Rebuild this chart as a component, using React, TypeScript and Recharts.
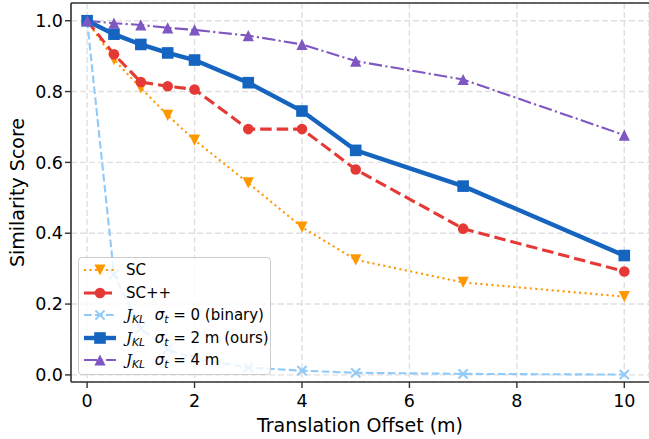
import { LineChart, Line, XAxis, YAxis, CartesianGrid, Legend, ReferenceLine, Label } from 'recharts';

// translation offsets (m) where each descriptor was evaluated
const OFFSETS = [0, 0.5, 1, 1.5, 2, 3, 4, 5, 7, 10];

// similarity scores
const SC = [1.0, 0.89, 0.81, 0.733, 0.663, 0.542, 0.417, 0.325, 0.261, 0.221];
const SC_PP = [1.0, 0.905, 0.827, 0.815, 0.806, 0.694, 0.694, 0.58, 0.413, 0.292];
const KL_BINARY = [1.0, 0.284, 0.131, 0.073, 0.045, 0.021, 0.012, 0.006, 0.003, 0.001];
const KL_OURS = [1.0, 0.962, 0.933, 0.909, 0.889, 0.825, 0.745, 0.634, 0.533, 0.337];
const KL_WIDE = [1.0, 0.993, 0.988, 0.98, 0.974, 0.958, 0.933, 0.886, 0.834, 0.677];

const X_TICKS = [0, 2, 4, 6, 8, 10];
const Y_TICKS = [0, 0.2, 0.4, 0.6, 0.8, 1.0];

const data = OFFSETS.map((x, i) => ({
  x,
  sc: SC[i],
  scpp: SC_PP[i],
  binary: KL_BINARY[i],
  ours: KL_OURS[i],
  wide: KL_WIDE[i],
}));

const FONT = '"DejaVu Sans", sans-serif';
const AXIS = '#333';

const ORANGE = '#FF9800';
const RED = '#E53935';
const LIGHT_BLUE = '#90CAF9';
const BLUE = '#1565C0';
const PURPLE = '#7E57C2';

// marker shapes (matplotlib style)
type Mk = 'v' | 'o' | 'x' | 's' | '^';

function marker(kind: Mk, color: string, cx: number, cy: number, key?: any) {
  if (kind === 'v') {
    const r = 5.6;
    return <path key={key} d={`M${cx - r},${cy - r} L${cx + r},${cy - r} L${cx},${cy + r} Z`} fill={color} />;
  }
  if (kind === '^') {
    const r = 5.6;
    return <path key={key} d={`M${cx - r},${cy + r} L${cx + r},${cy + r} L${cx},${cy - r} Z`} fill={color} />;
  }
  if (kind === 's') {
    const h = 5.8;
    return <rect key={key} x={cx - h} y={cy - h} width={h * 2} height={h * 2} fill={color} />;
  }
  if (kind === 'x') {
    const h = 4.6;
    return (
      <path key={key} d={`M${cx - h},${cy - h} L${cx + h},${cy + h} M${cx - h},${cy + h} L${cx + h},${cy - h}`}
        stroke={color} strokeWidth={2} fill="none" />
    );
  }
  return <circle key={key} cx={cx} cy={cy} r={5.3} fill={color} />;
}

const dotOf = (kind: Mk, color: string) => (p: any) => marker(kind, color, p.cx, p.cy, p.key ?? p.index);

const SERIES = [
  { key: 'sc', color: ORANGE, width: 2.1, dash: '2.1 3.4', mk: 'v' as Mk },
  { key: 'scpp', color: RED, width: 3.1, dash: '11.5 5', mk: 'o' as Mk },
  { key: 'binary', color: LIGHT_BLUE, width: 2.1, dash: '7.7 3.3', mk: 'x' as Mk },
  { key: 'ours', color: BLUE, width: 4.4, dash: undefined, mk: 's' as Mk },
  { key: 'wide', color: PURPLE, width: 2.1, dash: '13.3 3.3 2.1 3.3', mk: '^' as Mk },
];

const Sub = ({ children }: { children: any }) => (
  <span style={{ fontSize: '0.72em', fontStyle: 'italic', position: 'relative', top: '0.3em' }}>{children}</span>
);

const Jkl = () => (
  <>
    <span style={{ fontFamily: '"DejaVu Serif", serif', fontStyle: 'italic' }}>J</span>
    <Sub>KL</Sub>
  </>
);

const Sigma = () => (
  <>
    <span style={{ fontStyle: 'italic' }}>σ</span>
    <Sub>t</Sub>
  </>
);

const LABELS: Record<string, any> = {
  sc: <>SC</>,
  scpp: <>SC++</>,
  binary: <><Jkl />&nbsp;&nbsp;<Sigma /> = 0 (binary)</>,
  ours: <><Jkl />&nbsp;&nbsp;<Sigma /> = 2 m (ours)</>,
  wide: <><Jkl />&nbsp;&nbsp;<Sigma /> = 4 m</>,
};

function LegendBox() {
  return (
    <div style={{
      width: 191, height: 115, boxSizing: 'content-box',
      border: '1px solid #ccc', borderRadius: 4, background: 'rgba(255,255,255,0.8)',
      fontFamily: FONT, fontSize: 15, color: '#000', paddingTop: 1,
    }}>
      {SERIES.map((s) => (
        <div key={s.key} style={{ height: 22.5, display: 'flex', alignItems: 'center' }}>
          <svg width={34} height={16} style={{ marginLeft: 4, marginRight: 9, flex: 'none' }}>
            <line x1={1} y1={8} x2={33} y2={8} stroke={s.color} strokeWidth={s.width} strokeDasharray={s.dash} />
            {marker(s.mk, s.color, 17, 8)}
          </svg>
          <span style={{ whiteSpace: 'nowrap' }}>{LABELS[s.key]}</span>
        </div>
      ))}
    </div>
  );
}

const XLabel = (props: any) => {
  const vb = props.viewBox;
  return (
    <text x={vb.x + vb.width / 2} y={vb.y + 50} textAnchor="middle" fontFamily={FONT} fontSize={19} fill="#000">
      Translation Offset (m)
    </text>
  );
};

const YLabel = (props: any) => {
  const vb = props.viewBox;
  const cx = 17;
  const cy = vb.y + vb.height / 2;
  return (
    <text x={cx} y={cy} transform={`rotate(-90, ${cx}, ${cy})`} textAnchor="middle" dominantBaseline="central"
      fontFamily={FONT} fontSize={19} fill="#000">
      Similarity Score
    </text>
  );
};

export default function App() {
  return (
    <div style={{ position: 'absolute', left: 0, top: 0, width: 649, height: 439, background: '#fff' }}>
      <LineChart width={649} height={439} data={data} margin={{ top: 3, right: 0, left: 0, bottom: 0 }}>
        <CartesianGrid stroke="#e0e0e0" strokeWidth={1.4} strokeDasharray="6 3" />
        <XAxis
          dataKey="x" type="number" domain={[-0.3, 10.46]} ticks={X_TICKS} allowDataOverflow
          height={57} tickSize={6} tickMargin={7}
          axisLine={{ stroke: AXIS, strokeWidth: 1.6 }} tickLine={{ stroke: AXIS, strokeWidth: 1.4 }}
          tick={{ fill: '#000', fontSize: 17.5, fontFamily: FONT }}
        >
          <Label content={XLabel} />
        </XAxis>
        <YAxis
          type="number" domain={[-0.02, 1.05]} ticks={Y_TICKS} allowDataOverflow
          width={71} tickSize={6} tickMargin={2}
          tickFormatter={(v: number) => v.toFixed(1)}
          axisLine={{ stroke: AXIS, strokeWidth: 1.6 }} tickLine={{ stroke: AXIS, strokeWidth: 1.4 }}
          tick={{ fill: '#000', fontSize: 17.5, fontFamily: FONT }}
        >
          <Label content={YLabel} />
        </YAxis>
        <ReferenceLine y={1.05} stroke={AXIS} strokeWidth={1.6} ifOverflow="visible" />
        {SERIES.map((s) => (
          <Line
            key={s.key}
            dataKey={s.key}
            type="linear"
            stroke={s.color}
            strokeWidth={s.width}
            strokeDasharray={s.dash}
            dot={dotOf(s.mk, s.color)}
            activeDot={false}
            isAnimationActive={false}
          />
        ))}
        <Legend
          layout="vertical" align="center" verticalAlign="middle"
          content={() => <LegendBox />}
          wrapperStyle={{ left: 78, top: 257, width: 193, height: 117 }}
        />
      </LineChart>
    </div>
  );
}
